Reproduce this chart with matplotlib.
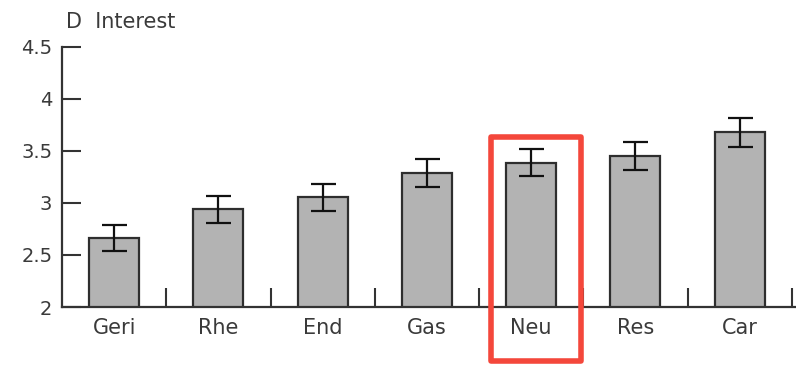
import numpy as np
import matplotlib.pyplot as plt
import matplotlib.transforms as mtransforms
from matplotlib.patches import Rectangle

# mean interest score per specialty, with error bar half-widths
specialties = ['Geri', 'Rhe', 'End', 'Gas', 'Neu', 'Res', 'Car']
interest = [2.66, 2.94, 3.055, 3.29, 3.385, 3.45, 3.68]
err = [0.125, 0.13, 0.13, 0.135, 0.13, 0.135, 0.14]
highlight = 'Neu'

txt = '#3a3a3a'

fig = plt.figure(figsize=(7.96, 3.66), dpi=100)
ax = fig.add_axes([0.0779, 0.1612, 0.9221, 0.7104])

x = np.arange(len(specialties))
ax.bar(x, interest, width=0.48, bottom=0, color='#b3b3b3',
       edgecolor='#2e2e2e', linewidth=1.6, zorder=2)
ax.errorbar(x, interest, yerr=err, fmt='none', ecolor='#111111',
            elinewidth=1.6, capsize=9, capthick=1.6, zorder=3)

ax.set_ylim(2, 4.5)
ax.set_xlim(-0.5, 6.54)
ax.set_yticks([2, 2.5, 3, 3.5, 4, 4.5])
ax.set_yticklabels(['2', '2.5', '3', '3.5', '4', '4.5'])
ax.set_xticks(x)
ax.set_xticklabels(specialties)
ax.set_xticks(x + 0.5, minor=True)

ax.tick_params(axis='y', direction='in', length=14, width=1.5,
               color='#333333', labelsize=14, labelcolor=txt, pad=7)
ax.tick_params(axis='x', which='major', length=0, labelsize=15,
               labelcolor=txt, pad=8)
ax.tick_params(axis='x', which='minor', direction='in', length=14,
               width=1.5, color='#333333')

for side in ['top', 'right']:
    ax.spines[side].set_visible(False)
for side in ['left', 'bottom']:
    ax.spines[side].set_linewidth(1.6)
    ax.spines[side].set_color('#333333')

fig.text(0.083, 0.94, 'D  Interest', fontsize=15, color=txt,
         ha='left', va='center')

# red box around the highlighted specialty, bar and label
i = specialties.index(highlight)
trans = mtransforms.blended_transform_factory(ax.transData, ax.transAxes)
box = Rectangle((i - 0.39, -0.206), 0.87, 0.86, transform=trans,
                fill=False, edgecolor='#f4473b', linewidth=4,
                joinstyle='round', clip_on=False, zorder=5)
ax.add_patch(box)

fig.savefig('out.png', dpi=100)
